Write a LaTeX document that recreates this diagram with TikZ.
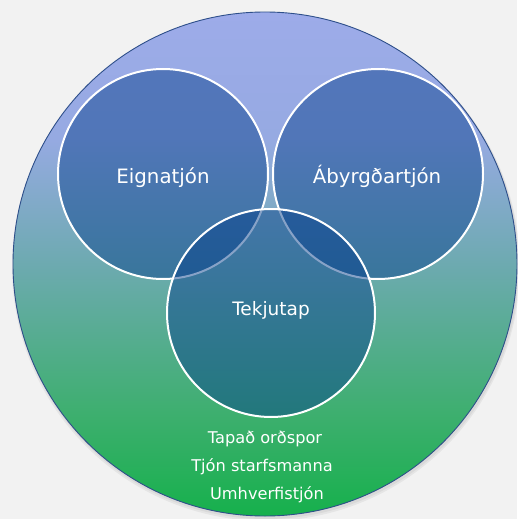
\documentclass[tikz,border=0pt]{standalone}
\usepackage{fontspec}
\setmainfont{DejaVu Sans}
\definecolor{bgc}{RGB}{242,242,242}
\definecolor{gA}{RGB}{22,176,76}
\definecolor{gB}{RGB}{61,175,110}
\definecolor{gC}{RGB}{109,170,176}
\definecolor{gD}{RGB}{150,170,226}
\definecolor{gE}{RGB}{157,171,233}
\definecolor{ringc}{RGB}{46,79,138}
\definecolor{setc}{RGB}{6,62,140}
\pgfdeclareverticalshading{bigshade}{100bp}{color(0bp)=(gA); color(25bp)=(gA); color(35bp)=(gB); color(50bp)=(gC); color(62.5bp)=(gD); color(75bp)=(gE); color(100bp)=(gE)}
\tikzset{
  setcircle/.style={circle, draw=white, line width=2pt, fill=setc, fill opacity=0.48, draw opacity=1, inner sep=0pt, minimum size=#1},
  biglabel/.style={text=white, font=\fontsize{19.8}{22}\selectfont, anchor=base, inner sep=0pt},
  smalllabel/.style={text=white, font=\fontsize{16.2}{28}\selectfont, anchor=base, inner sep=0pt}
}
\begin{document}
\begin{tikzpicture}[x=1pt,y=-1pt]
\fill[bgc] (0,0) rectangle (517,519);
\useasboundingbox (0,0) rectangle (517,519);
% soft shadow
\fill[black, opacity=0.05] (266,267) circle (254);
\fill[black, opacity=0.05] (266,266) circle (253);
\node[circle, minimum size=504pt, inner sep=0pt, shading=bigshade, draw=ringc, line width=0.9pt] (big) at (265,264) {};
\node[setcircle=210pt] (eign) at (163,174) {};
\node[setcircle=210pt] (abyr) at (378,174) {};
\node[setcircle=208pt] (tekj) at (271,313) {};
\node[biglabel] (leign) at (163,183) {Eignatjón};
\node[biglabel] (labyr) at (377,183) {Ábyrgðartjón};
\node[biglabel, font=\fontsize{18.5}{22}\selectfont] (ltekj) at (271,315) {Tekjutap};
\node[smalllabel] (l1) at (265,443) {Tapað orðspor};
\node[smalllabel] (l2) at (262,471) {Tjón starfsmanna};
\node[smalllabel] (l3) at (267,499) {Umhverfistjón};
\end{tikzpicture}
\end{document}
